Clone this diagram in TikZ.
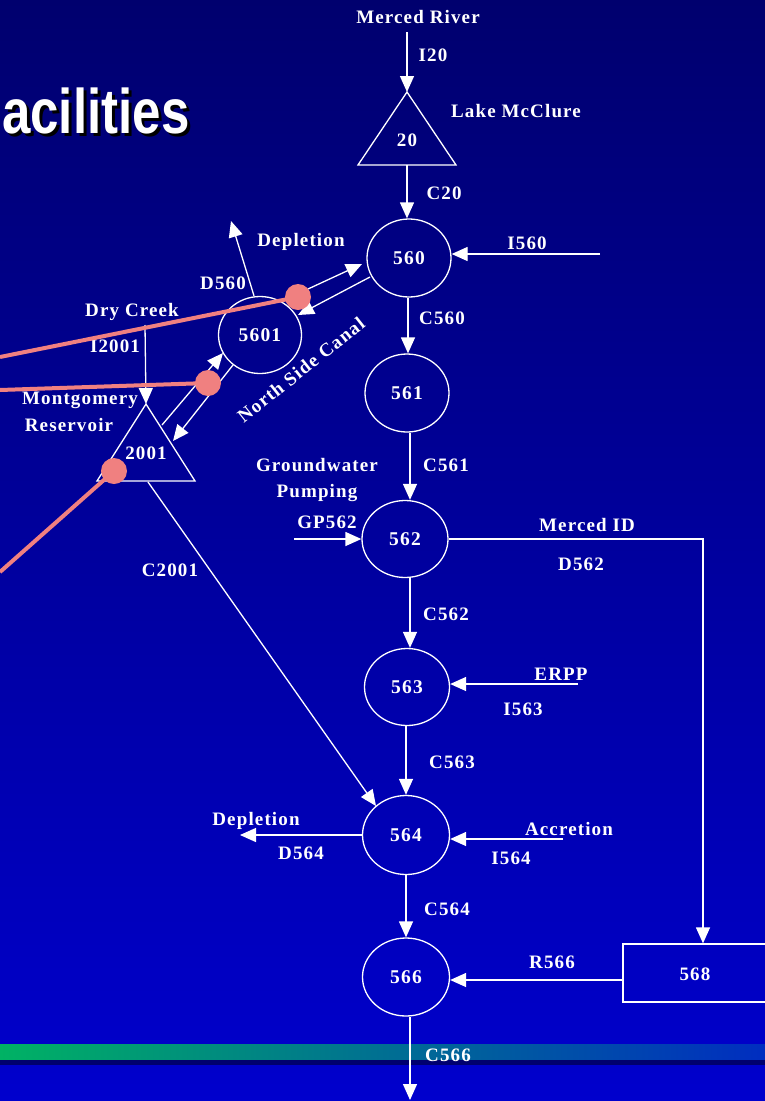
\documentclass[tikz,border=0pt]{standalone}
\usepackage{fontspec}
\setmainfont{Liberation Serif}[LetterSpace=6]
\newfontfamily\titlefont{Liberation Sans}
\usetikzlibrary{shapes.geometric,arrows.meta,calc}
\definecolor{pinkc}{RGB}{240,128,128}
\definecolor{bgtop}{RGB}{0,0,110}
\definecolor{bgbot}{RGB}{0,0,205}
\definecolor{bandl}{RGB}{0,178,100}
\definecolor{bandr}{RGB}{0,45,192}
\definecolor{bandd}{RGB}{0,0,110}
\begin{document}
\begin{tikzpicture}[x=1pt,y=-1pt,
  lbl/.style={text=white,font=\fontsize{19}{26}\selectfont\bfseries,inner sep=0pt},
  circ/.style={ellipse,draw=white,line width=1.3pt,minimum width=84pt,minimum height=78pt,inner sep=0pt,text=white,font=\fontsize{19.5}{21}\selectfont\bfseries},
  flow/.style={draw=white,line width=1.3pt,-{Triangle[width=14pt,length=16pt]}},
  pipe/.style={draw=white,line width=1.3pt},
  tri/.style={draw=white,line width=1.3pt},
  pinkline/.style={draw=pinkc,line width=4pt},
  pinkdot/.style={circle,fill=pinkc,minimum size=26pt,inner sep=0pt}]
% background
\shade[top color=bgtop,bottom color=bgbot] (0,0) rectangle (765,1101);
\useasboundingbox (0,0) rectangle (765,1101);
\shade[left color=bandl,right color=bandr] (0,1044) rectangle (765,1060);
\fill[bandd] (0,1060) rectangle (765,1065);
% title
\node[anchor=base west,inner sep=0pt,text=black] at (5,136) {\scalebox{0.81}[1]{\titlefont\fontsize{63}{63}\selectfont\bfseries acilities}};
\node[anchor=base west,inner sep=0pt,text=white] at (2,133) {\scalebox{0.81}[1]{\titlefont\fontsize{63}{63}\selectfont\bfseries acilities}};
% triangles
\coordinate (t20a) at (407,92); \coordinate (t20l) at (358,165); \coordinate (t20r) at (456,165);
\draw[tri] (t20a) -- (t20l) -- (t20r) -- cycle;
\node[lbl] (t20) at (407,140) {20};
\coordinate (t2001a) at (146,404); \coordinate (t2001l) at (97,481); \coordinate (t2001r) at (195,481);
\draw[tri] (t2001a) -- (t2001l) -- (t2001r) -- cycle;
\node[lbl] (t2001) at (146,453) {2001};
% circles
\node[circ] (n560) at (409,258) {560};
\node[circ] (n561) at (407,393) {561};
\node[circ,minimum width=86pt,minimum height=77pt] (n562) at (405,539) {562};
\node[circ,minimum width=85pt,minimum height=77pt] (n563) at (407,687) {563};
\node[circ,minimum width=87pt,minimum height=79pt] (n564) at (406,835) {564};
\node[circ,minimum width=87pt,minimum height=78pt] (n566) at (406,977) {566};
\node[circ,minimum width=83pt,minimum height=77pt] (n5601) at (260,335) {5601};
\node[draw=white,line width=1.3pt,minimum width=150pt,minimum height=58pt,inner sep=0pt] (n568) at (698,973) {};
\node[lbl] at (695,974) {568};
% text labels
\node[lbl] (merced) at (418,17) {Merced River};
\node[lbl] at (433,55) {I20};
\node[lbl] at (516,111) {Lake McClure};
\node[lbl] at (444,193) {C20};
\node[lbl] at (527,243) {I560};
\node[lbl] at (442,318) {C560};
\node[lbl] at (446,465) {C561};
\node[lbl,align=center] at (317,480) {Groundwater\\Pumping};
\node[lbl] at (327,522) {GP562};
\node[lbl] at (587,525) {Merced ID};
\node[lbl] at (581,564) {D562};
\node[lbl] at (446,614) {C562};
\node[lbl] at (561,674) {ERPP};
\node[lbl] at (523,709) {I563};
\node[lbl] at (452,762) {C563};
\node[lbl] at (256,821) {Depletion};
\node[lbl] at (301,853) {D564};
\node[lbl] at (569,829) {Accretion};
\node[lbl] at (511,858) {I564};
\node[lbl] at (447,909) {C564};
\node[lbl] at (552,962) {R566};
\node[lbl] at (448,1055) {C566};
\node[lbl] at (301,242) {Depletion};
\node[lbl] at (223,283) {D560};
\node[lbl] at (132,312) {Dry Creek};
\node[lbl] at (115,346) {I2001};
\node[lbl] at (80,400) {Montgomery};
\node[lbl] at (69,425) {Reservoir};
\node[lbl] at (170,570) {C2001};
\node[lbl,rotate=38.5] at (301,370) {North Side Canal};
% connector endpoints
\coordinate (mrs) at (407,32);
\coordinate (i560s) at (600,254);
\coordinate (gps) at (294,539);
\coordinate (mid) at (703,539);
\coordinate (erpps) at (578,684);
\coordinate (depe) at (240,835);
\coordinate (accs) at (563,839);
\coordinate (c566e) at (410,1100);
\coordinate (dcs) at (145,325);
\coordinate (d560e) at (231,221);
% main chain
\draw[flow] (mrs) -- (t20a);
\draw[flow] (407,165) -- (n560.north -| 407,0);
\draw[flow] (i560s) -- (n560.east |- i560s);
\draw[flow] (n560.south -| 408,0) -- (n561.north -| 408,0);
\draw[flow] (n561.south -| 410,0) -- (n562.north -| 410,0);
\draw[flow] (gps) -- (n562.west);
\draw[flow] (n562.east) -- (mid) -- (mid |- n568.north);
\draw[flow] (n562.south -| 410,0) -- (n563.north -| 410,0);
\draw[flow] (erpps) -- (n563.east |- erpps);
\draw[flow] (n563.south -| 406,0) -- (n564.north -| 406,0);
\draw[flow] (n564.west) -- (depe);
\draw[flow] (accs) -- (n564.east |- accs);
\draw[flow] (n564.south) -- (n566.north);
\draw[flow] (n568.west |- 0,980) -- (n566.east |- 0,980);
\draw[flow] (n566.south -| 410,0) -- (c566e);
% upper branch
\draw[flow] (n5601.north -| 254,0) -- (d560e);
\draw[flow] (308,289) -- (362,264);
\draw[flow] (370,277) -- (298,315);
\draw[flow] (162,425) -- (223,353);
\draw[flow] (233,365) -- (173,441);
\draw[flow] (dcs) -- (t2001a);
\draw[flow] (148,482) -- (376,806);
% pink overlay
\draw[pinkline] (0,357) -- (298,297);
\draw[pinkline] (0,390) -- (208,383);
\draw[pinkline] (0,572) -- (114,471);
\node[pinkdot] (p1) at (298,297) {};
\node[pinkdot] (p2) at (208,383) {};
\node[pinkdot] (p3) at (114,471) {};
\end{tikzpicture}
\end{document}
